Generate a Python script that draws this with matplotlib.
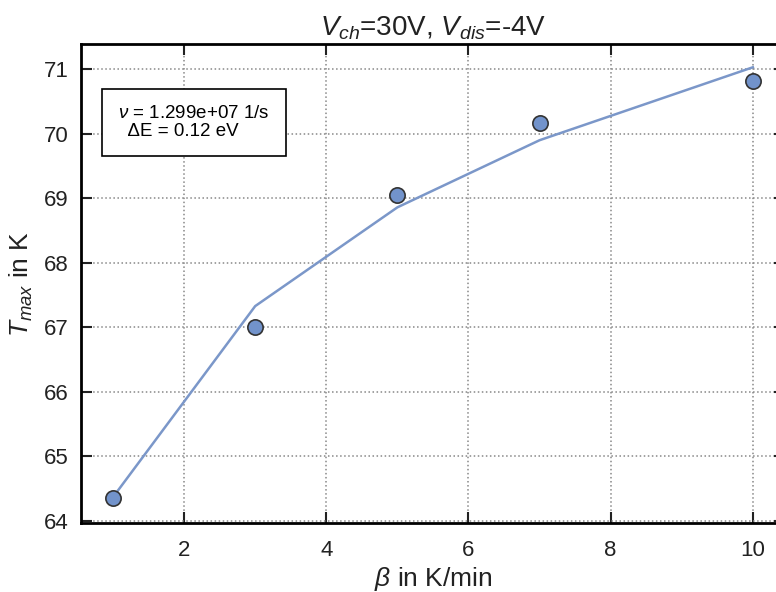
import matplotlib
matplotlib.use("Agg")
import matplotlib.pyplot as plt

beta = [1, 3, 5, 7, 10]
t_max = [64.35, 67.00, 69.05, 70.17, 70.82]
t_fit = [64.37, 67.33, 68.86, 69.90, 71.03]

plt.rcParams['font.family'] = ['Liberation Sans', 'DejaVu Sans']
plt.rcParams['mathtext.fontset'] = 'custom'
plt.rcParams['mathtext.it'] = 'Liberation Sans:italic'
plt.rcParams['mathtext.rm'] = 'Liberation Sans'

fig = plt.figure(figsize=(7.76, 5.92), dpi=100)
ax = fig.add_axes([0.1044, 0.1166, 0.907, 0.809])

ax.plot(beta, t_fit, color='#7b97c9', lw=1.8, zorder=2)
ax.plot(beta, t_max, 'o', ms=11, markerfacecolor='#7293cb', markeredgecolor='#333333',
        markeredgewidth=1.2, zorder=3)

ax.set_xlim(0.55, 10.45)
ax.set_ylim(63.97, 71.39)
ax.set_xticks([2, 4, 6, 8, 10])
ax.set_yticks([64, 65, 66, 67, 68, 69, 70, 71])
ax.grid(True, linestyle=':', color='#888888', lw=1.1)
ax.tick_params(direction='in', length=8, width=1.5, top=True, right=True,
               labelsize=16, colors='#222222')
ax.tick_params(axis='x', pad=12)
ax.tick_params(axis='y', pad=9)
for s in ax.spines.values():
    s.set_linewidth(2)
    s.set_color('black')

ax.set_xlabel(r'$\beta$ in K/min', fontsize=19, color='#222222', labelpad=3)
ax.set_ylabel(r'$T_{max}$ in K', fontsize=19, color='#222222', labelpad=6)
ax.set_title(r'$V_{ch}$=30V, $V_{dis}$=-4V', fontsize=20, color='#222222', pad=6)

ax.text(0.053, 0.836, '$\\nu$ = 1.299e+07 1/s\n  ΔE = 0.12 eV', transform=ax.transAxes,
        fontsize=13.5, va='center', ha='left', linespacing=1.1, color='black',
        bbox=dict(boxstyle='square,pad=0.85', facecolor='white', edgecolor='black', lw=1.2))

fig.savefig('out.png', dpi=100)
